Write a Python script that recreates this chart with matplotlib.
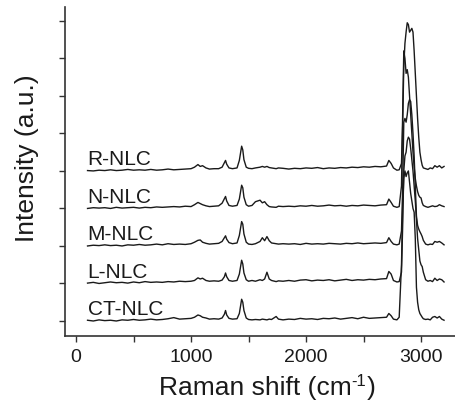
import matplotlib
matplotlib.use("Agg")
import matplotlib.pyplot as plt

plt.rcParams['font.family'] = ['Liberation Sans', 'DejaVu Sans']

# Raman shift (cm-1), shared by all spectra
shift = [100, 150, 200, 250, 300, 350, 400, 450, 500, 550, 600, 650, 700, 750, 800, 850, 900, 950, 1000,
         1030, 1060, 1080, 1100, 1130, 1160, 1200, 1240, 1270, 1290, 1300, 1310, 1330, 1360, 1400, 1420, 1440, 1450, 1460, 1480, 1500,
         1530, 1560, 1600, 1620, 1640, 1660, 1680, 1700, 1740, 1760, 1800,
         1850, 1900, 1950, 2000, 2050, 2100, 2150, 2200, 2250, 2300, 2350, 2400, 2450, 2500, 2550, 2600, 2650, 2700,
         2720, 2740, 2760, 2790, 2810, 2830, 2840, 2850, 2860, 2870, 2880, 2890, 2900, 2910, 2920, 2930, 2940, 2950, 2960, 2970, 2980, 2990, 3000,
         3010, 3020, 3040, 3060, 3080, 3100, 3120, 3140, 3160, 3180, 3200]

# intensities (a.u.), each relative to its own baseline
ct_nlc = [0.02, 0.00, 0.03, 0.01, 0.02, 0.00, 0.03, 0.02, 0.04, 0.02, 0.03, 0.05, 0.03, 0.04, 0.06, 0.09, 0.05, 0.06, 0.07,
          0.10, 0.16, 0.14, 0.10, 0.08, 0.05, 0.06, 0.05, 0.08, 0.18, 0.28, 0.16, 0.07, 0.05, 0.06, 0.20, 0.58, 0.50, 0.28, 0.08, 0.04,
          0.03, 0.04, 0.03, 0.05, 0.04, 0.03, 0.05, 0.04, 0.12, 0.05, 0.03,
          0.05, 0.04, 0.07, 0.05, 0.06, 0.04, 0.07, 0.06, 0.08, 0.05, 0.07, 0.09, 0.06, 0.10, 0.07, 0.08, 0.09, 0.10,
          0.20, 0.14, 0.05, 0.03, 0.10, 1.50, 3.00, 3.80, 4.00, 3.85, 3.95, 4.00, 3.70, 3.40, 3.20, 3.00, 2.90, 2.20, 0.90, 0.50, 0.30, 0.20, 0.15,
          0.10, 0.06, 0.04, 0.05, 0.03, 0.10, 0.12, 0.08, 0.12, 0.05, 0.02]

l_nlc = [0.01, 0.03, 0.00, 0.02, 0.04, 0.02, 0.03, 0.01, 0.04, 0.02, 0.05, 0.03, 0.04, 0.03, 0.05, 0.04, 0.06, 0.05, 0.06,
         0.08, 0.15, 0.12, 0.14, 0.08, 0.06, 0.07, 0.06, 0.09, 0.18, 0.28, 0.18, 0.08, 0.06, 0.08, 0.25, 0.62, 0.52, 0.28, 0.10, 0.06,
         0.08, 0.06, 0.10, 0.08, 0.12, 0.30, 0.12, 0.08, 0.05, 0.07, 0.06,
         0.08, 0.06, 0.09, 0.10, 0.07, 0.09, 0.08, 0.10, 0.07, 0.09, 0.11, 0.08, 0.10, 0.09, 0.11, 0.10, 0.12, 0.13,
         0.32, 0.25, 0.08, 0.04, 0.05, 0.30, 1.50, 3.00, 3.40, 3.50, 3.80, 3.90, 3.85, 3.60, 3.30, 3.00, 2.60, 2.20, 1.70, 1.20, 0.90, 0.60, 0.50,
         0.45, 0.30, 0.10, 0.06, 0.08, 0.05, 0.14, 0.08, 0.12, 0.10, 0.04]

m_nlc = [0.00, 0.02, 0.01, 0.03, 0.01, 0.02, 0.00, 0.03, 0.02, 0.04, 0.02, 0.03, 0.05, 0.03, 0.06, 0.04, 0.05, 0.04, 0.06,
         0.10, 0.15, 0.16, 0.10, 0.07, 0.05, 0.06, 0.07, 0.12, 0.22, 0.27, 0.18, 0.09, 0.06, 0.08, 0.28, 0.65, 0.58, 0.32, 0.10, 0.05,
         0.04, 0.06, 0.12, 0.22, 0.14, 0.25, 0.14, 0.08, 0.06, 0.05, 0.06,
         0.05, 0.06, 0.04, 0.07, 0.05, 0.06, 0.05, 0.07, 0.06, 0.05, 0.07, 0.06, 0.08, 0.06, 0.07, 0.08, 0.07, 0.09,
         0.22, 0.12, 0.05, 0.03, 0.05, 0.40, 1.50, 3.30, 3.40, 3.30, 3.50, 3.80, 3.90, 3.85, 3.50, 3.00, 2.40, 1.60, 0.80, 0.55, 0.45, 0.38, 0.32,
         0.25, 0.15, 0.05, 0.03, 0.05, 0.04, 0.12, 0.10, 0.12, 0.08, 0.03]

n_nlc = [0.00, 0.02, 0.01, 0.02, 0.00, 0.03, 0.01, 0.02, 0.03, 0.01, 0.03, 0.02, 0.04, 0.03, 0.04, 0.05, 0.04, 0.06, 0.05,
         0.10, 0.16, 0.13, 0.10, 0.07, 0.05, 0.06, 0.07, 0.14, 0.26, 0.32, 0.20, 0.08, 0.06, 0.08, 0.25, 0.62, 0.55, 0.30, 0.10, 0.06,
         0.08, 0.18, 0.22, 0.15, 0.18, 0.10, 0.05, 0.04, 0.03, 0.06, 0.05,
         0.06, 0.05, 0.07, 0.06, 0.08, 0.06, 0.07, 0.09, 0.07, 0.08, 0.06, 0.08, 0.07, 0.09, 0.08, 0.07, 0.09, 0.10,
         0.25, 0.16, 0.06, 0.03, 0.05, 0.60, 2.50, 4.20, 4.00, 3.60, 3.70, 3.50, 3.00, 2.50, 2.00, 1.50, 1.10, 0.80, 0.60, 0.45, 0.35, 0.30, 0.28,
         0.15, 0.08, 0.05, 0.03, 0.05, 0.07, 0.05, 0.06, 0.10, 0.07, 0.05]

r_nlc = [0.01, 0.00, 0.02, 0.01, 0.03, 0.01, 0.02, 0.04, 0.02, 0.03, 0.02, 0.04, 0.02, 0.03, 0.05, 0.03, 0.04, 0.05, 0.06,
         0.10, 0.17, 0.12, 0.14, 0.08, 0.05, 0.06, 0.06, 0.10, 0.22, 0.28, 0.18, 0.08, 0.06, 0.08, 0.28, 0.66, 0.56, 0.30, 0.10, 0.07,
         0.06, 0.08, 0.10, 0.12, 0.10, 0.12, 0.09, 0.08, 0.06, 0.08, 0.07,
         0.05, 0.07, 0.06, 0.08, 0.07, 0.09, 0.06, 0.08, 0.07, 0.09, 0.08, 0.10, 0.09, 0.11, 0.10, 0.12, 0.11, 0.13,
         0.28, 0.20, 0.08, 0.02, 0.03, 0.20, 1.20, 2.80, 3.40, 3.70, 3.95, 3.90, 3.70, 3.75, 3.80, 3.70, 3.20, 2.60, 2.00, 1.40, 0.90, 0.50, 0.30,
         0.15, 0.08, 0.06, 0.04, 0.08, 0.06, 0.14, 0.10, 0.14, 0.08, 0.12]

labels = ['CT-NLC', 'L-NLC', 'M-NLC', 'N-NLC', 'R-NLC']
spectra = [ct_nlc, l_nlc, m_nlc, n_nlc, r_nlc]

ink = '#1a1a1a'
W, H = 456, 406

fig = plt.figure(figsize=(W / 100, H / 100), dpi=100)
ax = fig.add_axes([65 / W, 1 - 337 / H, 1 - 65 / W, 329 / H])

for i, (name, y) in enumerate(zip(labels, spectra)):
    ax.plot(shift, [v + i for v in y], color=ink, lw=1.0)
    ax.text(100, i + 0.18, name, fontsize=15, color=ink, ha='left', va='baseline')

ax.set_xlim(-96, 3304)
ax.set_ylim(-0.4, 8.37)
ax.set_xticks([0, 1000, 2000, 3000])
ax.set_xticks([500, 1500, 2500], minor=True)
ax.set_yticks(range(9))
ax.set_yticklabels([])
for side in ['top', 'right']:
    ax.spines[side].set_visible(False)
for side in ['left', 'bottom']:
    ax.spines[side].set_color('#333333')
    ax.spines[side].set_linewidth(1.2)
ax.tick_params(axis='both', which='both', direction='out', length=4, width=1, color='#333333')
ax.tick_params(axis='x', labelsize=14, pad=5, labelcolor=ink)

# x label with a plain-hyphen superscript, pieced together
renderer = fig.canvas.get_renderer()
base_y = 1 - 395 / H
parts = [('Raman shift (cm', 19, 0), ('-1', 12, 9), (')', 19, 0)]
texts = [fig.text(0, base_y + dy / H, s, fontsize=fs, color=ink, ha='left', va='baseline')
         for s, fs, dy in parts]
widths = [t.get_window_extent(renderer).width for t in texts]
x = 267 - sum(widths) / 2
for t, w in zip(texts, widths):
    t.set_x(x / W)
    x += w

fig.text(27 / W, 1 - 158 / H, 'Intensity (a.u.)', fontsize=19,
         ha='center', va='center', rotation=90, color=ink)

fig.savefig('out.png', dpi=100)
